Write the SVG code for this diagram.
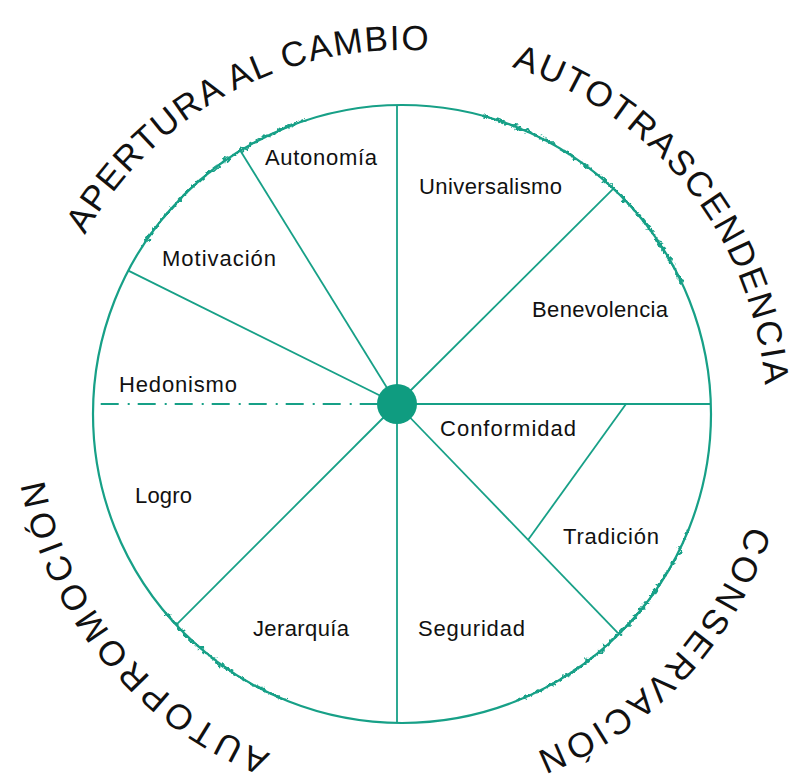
<svg xmlns="http://www.w3.org/2000/svg" xmlns:xlink="http://www.w3.org/1999/xlink" width="790" height="774" viewBox="0 0 790 774">
<style>
.ln{stroke:#17a087;stroke-width:1.8;fill:none}
.rim{stroke:#17a087;stroke-width:2.2;fill:none}
.nz{stroke:#17a087;stroke-width:2.4;fill:none}
.lbl{font-family:"Liberation Sans",Arial,sans-serif;font-size:22px;fill:#111}
.big{font-family:"Liberation Sans",Arial,sans-serif;font-size:35px;fill:#111}
</style>
<defs>
<path id="ring" d="M38,414 A364,364 0 1 1 766,414 A364,364 0 1 1 38,414"/>
<filter id="rough" x="-20%" y="-20%" width="140%" height="140%">
<feTurbulence type="fractalNoise" baseFrequency="0.18" numOctaves="4" seed="7" result="n"/>
<feDisplacementMap in="SourceGraphic" in2="n" scale="8" xChannelSelector="R" yChannelSelector="G"/>
</filter>
</defs>
<rect width="790" height="774" fill="#fff"/>
<g id="rim">
<circle class="rim" cx="402" cy="414" r="309"/>
<path class="nz" filter="url(#rough)" d="M142.8,245.7 A309,309 0 0 1 306.5,120.1"/>
<path class="nz" filter="url(#rough)" d="M482,115.5 A309,309 0 0 1 682,283.4"/>
<path class="nz" filter="url(#rough)" d="M688.5,529.8 A309,309 0 0 1 517.8,700.5"/>
<path class="nz" filter="url(#rough)" d="M286.2,700.5 A309,309 0 0 1 165.3,612.6"/>
</g>
<g id="connectors">
<line class="ln" x1="397" y1="404" x2="397" y2="105"/>
<line class="ln" x1="397" y1="404" x2="397" y2="723"/>
<line class="ln" x1="397" y1="404" x2="711" y2="404"/>
<line class="ln" x1="397" y1="404" x2="613.4" y2="188.6"/>
<line class="ln" x1="397" y1="404" x2="240.4" y2="150.7"/>
<line class="ln" x1="397" y1="404" x2="128.3" y2="270.6"/>
<line class="ln" x1="397" y1="404" x2="176.2" y2="624.8"/>
<line class="ln" x1="397" y1="404" x2="618" y2="633"/>
<line class="ln" x1="626" y1="404" x2="528" y2="540"/>
<line class="ln" x1="100.7" y1="404" x2="378" y2="404" stroke-dasharray="18 9 2 8"/>
</g>
<g id="center"><circle cx="397" cy="404" r="20" fill="#0f9c80"/></g>
<g id="autonomia"><text class="lbl" x="265" y="165" textLength="112">Autonomía</text></g>
<g id="universalismo"><text class="lbl" x="419" y="194" textLength="143">Universalismo</text></g>
<g id="motivacion"><text class="lbl" x="162" y="266" textLength="114">Motivación</text></g>
<g id="benevolencia"><text class="lbl" x="532" y="317" textLength="136">Benevolencia</text></g>
<g id="hedonismo"><text class="lbl" x="119" y="392" textLength="118">Hedonismo</text></g>
<g id="conformidad"><text class="lbl" x="440" y="436" textLength="136">Conformidad</text></g>
<g id="logro"><text class="lbl" x="135" y="503" textLength="57">Logro</text></g>
<g id="tradicion"><text class="lbl" x="563" y="544" textLength="96">Tradición</text></g>
<g id="jerarquia"><text class="lbl" x="253" y="636" textLength="96">Jerarquía</text></g>
<g id="seguridad"><text class="lbl" x="418" y="636" textLength="107">Seguridad</text></g>
<g id="groups">
<text class="big"><textPath xlink:href="#ring" href="#ring" startOffset="187" textLength="411" lengthAdjust="spacing">APERTURA AL CAMBIO</textPath></text>
<text class="big"><textPath xlink:href="#ring" href="#ring" startOffset="683" textLength="431" lengthAdjust="spacing">AUTOTRASCENDENCIA</textPath></text>
<text class="big"><textPath xlink:href="#ring" href="#ring" startOffset="1256" textLength="321" lengthAdjust="spacing">CONSERVACIÓN</textPath></text>
<text class="big"><textPath xlink:href="#ring" href="#ring" startOffset="1849" textLength="371" lengthAdjust="spacing">AUTOPROMOCIÓN</textPath></text>
</g>
</svg>
